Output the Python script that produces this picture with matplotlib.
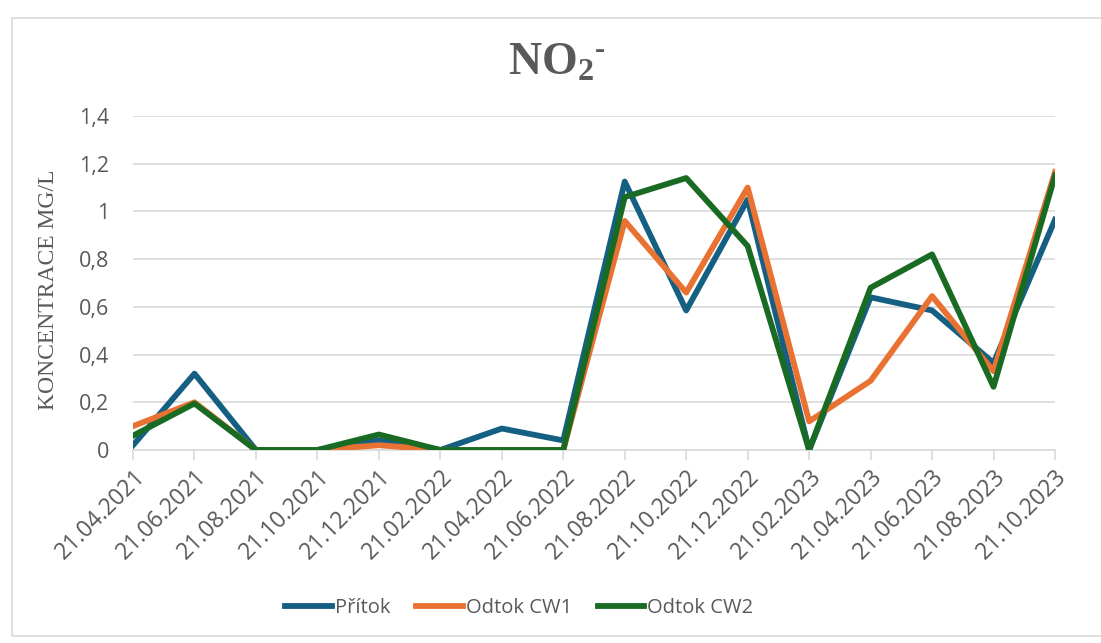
import matplotlib
matplotlib.use("Agg")
import matplotlib.pyplot as plt
from matplotlib.ticker import FuncFormatter
from matplotlib.patches import Rectangle

# data
dates = ["21.04.2021", "21.06.2021", "21.08.2021", "21.10.2021", "21.12.2021",
         "21.02.2022", "21.04.2022", "21.06.2022", "21.08.2022", "21.10.2022",
         "21.12.2022", "21.02.2023", "21.04.2023", "21.06.2023", "21.08.2023",
         "21.10.2023"]
pritok = [0.02, 0.32, 0.0, 0.0, 0.04, 0.0, 0.09, 0.04, 1.125, 0.585, 1.05, 0.0,
          0.64, 0.585, 0.365, 0.965]
odtok_cw1 = [0.10, 0.20, 0.0, 0.0, 0.02, 0.0, 0.0, 0.0, 0.96, 0.66, 1.10, 0.12,
             0.29, 0.645, 0.33, 1.165]
odtok_cw2 = [0.06, 0.195, 0.0, 0.0, 0.065, 0.0, 0.0, 0.0, 1.06, 1.14, 0.855, 0.0,
             0.68, 0.82, 0.265, 1.15]

grey = "#595959"
plt.rcParams['font.family'] = ['Open Sans', 'DejaVu Sans']
plt.rcParams['mathtext.fontset'] = 'custom'
plt.rcParams['mathtext.bf'] = 'Liberation Serif:bold'
plt.rcParams['mathtext.rm'] = 'Liberation Serif'

fig = plt.figure(figsize=(11.01, 6.43), dpi=100)
fig.patches.append(Rectangle((12/1101, 7/643), 1.0, 1 - 25/643, transform=fig.transFigure,
                             fill=False, edgecolor="#d9d9d9", linewidth=1.2))
ax = fig.add_axes([133/1101, 1 - 450/643, (1055 - 133)/1101, (450 - 116)/643])

x = list(range(len(dates)))
ax.plot(x, pritok, color="#156082", lw=4.2, label="Přítok", zorder=3)
ax.plot(x, odtok_cw1, color="#E97132", lw=4.2, label="Odtok CW1", zorder=4)
ax.plot(x, odtok_cw2, color="#196B24", lw=4.2, label="Odtok CW2", zorder=5)

ax.set_xlim(0, len(dates) - 1)
ax.set_ylim(0, 1.4)
ax.set_yticks([0, 0.2, 0.4, 0.6, 0.8, 1.0, 1.2, 1.4])
ax.yaxis.set_major_formatter(FuncFormatter(lambda v, p: ("%g" % round(v, 1)).replace(".", ",")))
ax.set_xticks(x)
ax.set_xticklabels(dates, rotation=45, ha="right", rotation_mode="anchor")

ax.grid(axis="y", color="#d9d9d9", lw=1.2)
ax.set_axisbelow(True)
for s in ["top", "right", "left"]:
    ax.spines[s].set_visible(False)
ax.spines["bottom"].set_color("#d9d9d9")
ax.spines["bottom"].set_linewidth(1.2)
ax.spines["bottom"].set_zorder(1)
ax.tick_params(axis="y", length=0, pad=17, labelsize=15.5, labelcolor=grey)
ax.tick_params(axis="x", length=7, width=1.2, color="#d9d9d9", pad=4, labelsize=16.5,
               labelcolor=grey)

ax.set_ylabel("KONCENTRACE MG/L", family="Liberation Serif", fontsize=17, color=grey)
ax.yaxis.set_label_coords(-0.080, 0.48)

# title: NO2 with a small hyphen as charge
fig.text(551/1101, 1 - 63/643, r"$\mathbf{NO_2}$", ha="center", va="center",
         fontsize=33, color=grey)
fig.text(600/1101, 1 - 50/643, "-", ha="center", va="center", fontsize=22,
         family="Liberation Serif", weight="bold", color=grey)

ax.legend(loc="center", bbox_to_anchor=(0.419, -0.473), ncol=3, frameon=False,
          fontsize=14.5, labelcolor=grey, handlelength=2.3, handletextpad=0.15,
          columnspacing=1.3)

fig.savefig("out.png", dpi=100)
